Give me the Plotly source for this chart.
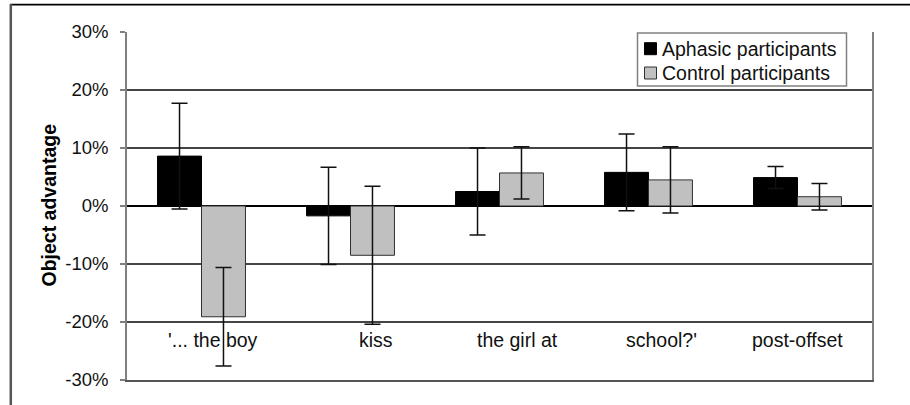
import plotly.graph_objects as go

# ---- data (percent) ----
segments = ["'... the boy", "kiss", "the girl at", "school?'", "post-offset"]
series_names = ["Aphasic participants", "Control participants"]
aphasic = [8.6, -1.7, 2.5, 5.8, 4.9]
aphasic_err = [9.1, 8.4, 7.5, 6.6, 1.9]
control = [-19.1, -8.5, 5.7, 4.5, 1.6]
control_err = [8.5, 11.9, 4.5, 5.7, 2.3]
y_ticks = [-30, -20, -10, 0, 10, 20, 30]

# ---- layout geometry (pixels) ----
W, H = 910, 405
L, R, T, B = 127, 872, 32, 380
FONT = "Liberation Sans, Arial, sans-serif"
fills = ["#000000", "#c0c0c0"]
edges = ["#000000", "#303030"]
label_shift = [11, 25, 18, 13, 0]


def px_x(x):
    return (x - L) / (R - L)


def px_y(y):
    return (B - y) / (B - T)


fig = go.Figure()
for name, vals, errs, fc, ec in zip(series_names, [aphasic, control],
                                    [aphasic_err, control_err], fills, edges):
    fig.add_trace(go.Bar(
        x=segments, y=[v / 100 for v in vals], name=name,
        marker=dict(color=fc, line=dict(color=ec, width=1)),
        error_y=dict(type="data", array=[e / 100 for e in errs], visible=True,
                     color="#111111", thickness=1.5, width=8),
        showlegend=False,
    ))

# category labels set low inside the plot
for i, seg in enumerate(segments):
    fig.add_annotation(x=seg, xref="x", y=px_y(339.5), yref="paper",
                       text=seg, showarrow=False, xshift=label_shift[i],
                       font=dict(family=FONT, size=19.5, color="#111111"),
                       xanchor="center", yanchor="middle")

# y axis title
fig.add_annotation(x=px_x(48.5), xref="paper", y=px_y(205), yref="paper",
                   text="<b>Object advantage</b>", textangle=-90, showarrow=False,
                   font=dict(family=FONT, size=19.5, color="#000000"),
                   xanchor="center", yanchor="middle")

# legend box
shapes = [
    dict(type="rect", xref="paper", yref="paper",
         x0=px_x(637.5), x1=px_x(846.5), y0=px_y(86), y1=px_y(33),
         line=dict(color="#808080", width=1.5), fillcolor="white", layer="above"),
]
for k, (name, fc, ec) in enumerate(zip(series_names, fills, edges)):
    cy = 48.7 + 24.3 * k
    shapes.append(dict(type="rect", xref="paper", yref="paper",
                       x0=px_x(644.5), x1=px_x(656.5), y0=px_y(cy + 6), y1=px_y(cy - 6),
                       line=dict(color=ec, width=1), fillcolor=fc, layer="above"))
    fig.add_annotation(x=px_x(659.5), xref="paper", y=px_y(cy), yref="paper",
                       text=name, showarrow=False, xanchor="left", yanchor="middle",
                       font=dict(family=FONT, size=19.5, color="#111111"))

# outer frame (top and left edges)
shapes.append(dict(type="line", xref="paper", yref="paper",
                   x0=px_x(10), x1=px_x(915), y0=px_y(4.7), y1=px_y(4.7),
                   line=dict(color="#000000", width=1.8)))
shapes.append(dict(type="line", xref="paper", yref="paper",
                   x0=px_x(10.8), x1=px_x(10.8), y0=px_y(4), y1=px_y(410),
                   line=dict(color="#555555", width=2.5)))

fig.update_layout(
    width=W, height=H,
    margin=dict(l=L, r=W - R, t=T, b=H - B, pad=0),
    paper_bgcolor="white", plot_bgcolor="white",
    barmode="group", bargap=0.41, bargroupgap=0,
    shapes=shapes,
    font=dict(family=FONT, color="#111111"),
)
fig.update_xaxes(showticklabels=False, showgrid=False, zeroline=False,
                 showline=True, linecolor="#555555", linewidth=1.5, ticks="")
fig.update_yaxes(range=[-0.3, 0.3], tickvals=[t / 100 for t in y_ticks],
                 ticktext=[f"{t}%" for t in y_ticks],
                 showgrid=True, gridcolor="#444444", gridwidth=1.5,
                 zeroline=True, zerolinecolor="#000000", zerolinewidth=1.5,
                 showline=True, linecolor="#808080", linewidth=1.5, mirror=True,
                 ticks="outside", ticklen=5, tickcolor="#808080", tickwidth=1.5,
                 ticklabelstandoff=8,
                 tickfont=dict(family=FONT, size=18.5, color="#111111"))

fig.write_html("out.html")
